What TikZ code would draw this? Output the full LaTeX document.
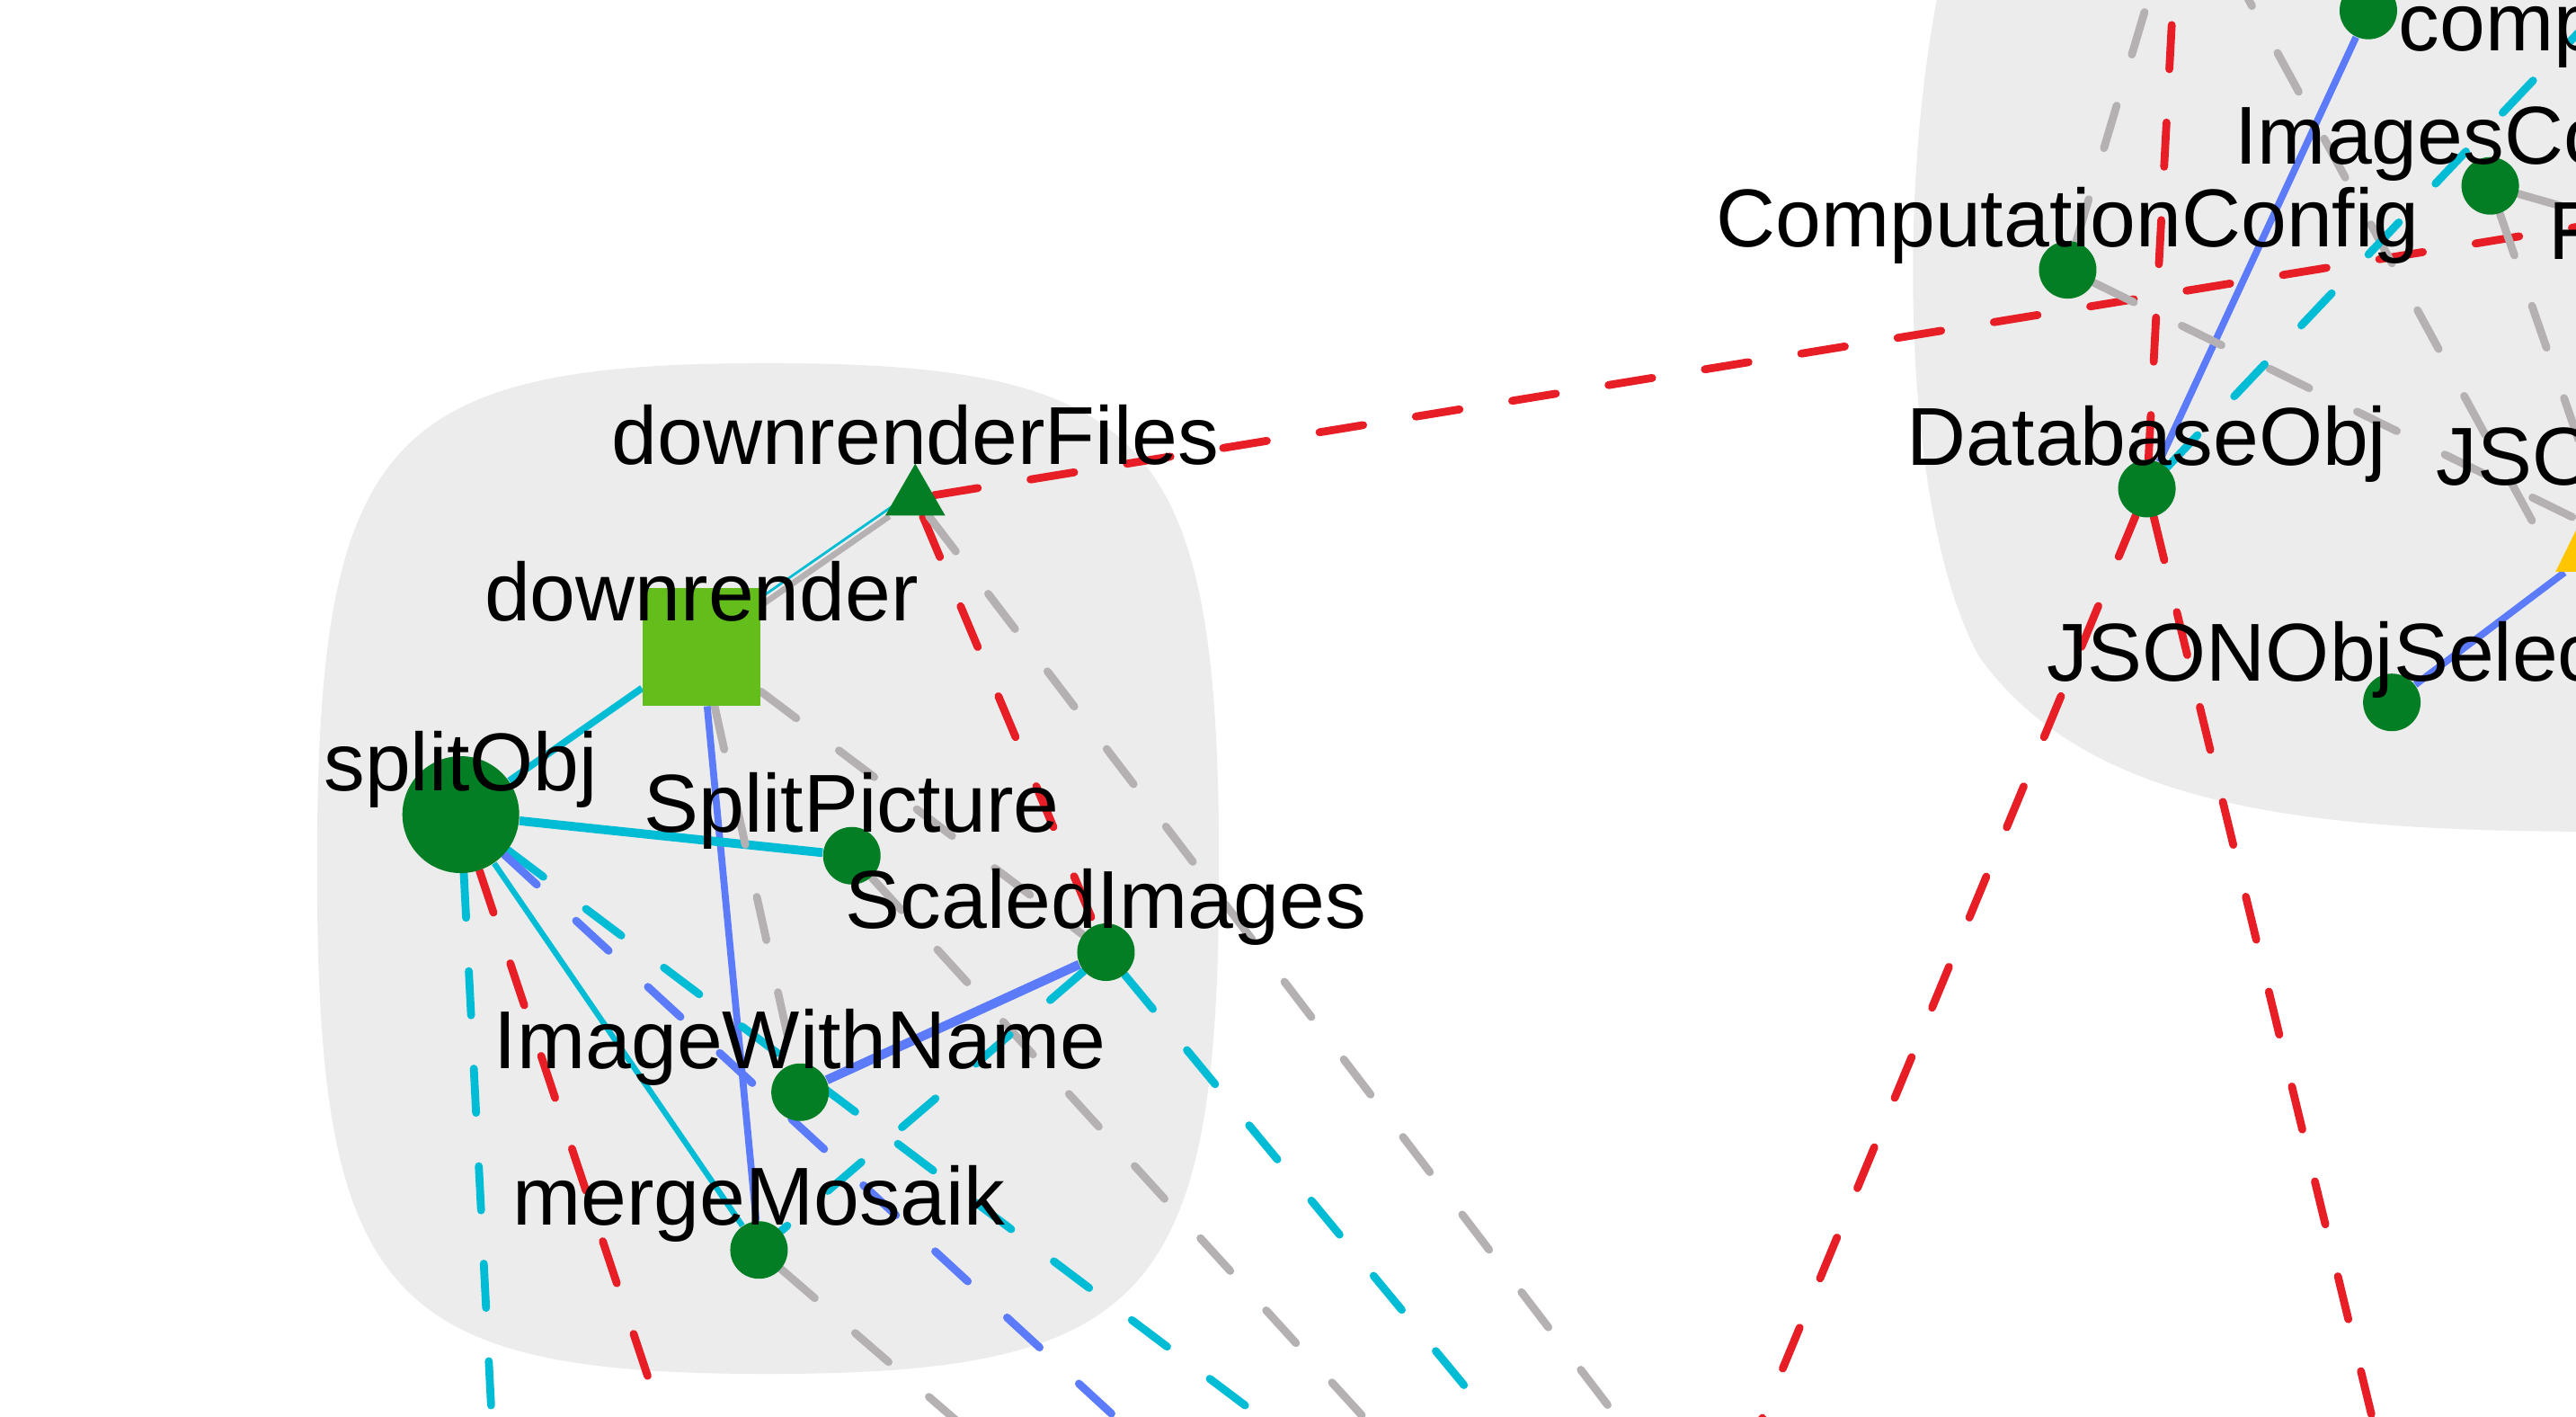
\documentclass[tikz,border=0pt]{standalone}
\usepackage{fontspec}
\setmainfont{Liberation Sans}
\usetikzlibrary{shapes.geometric}

\definecolor{clusterbg}{RGB}{236,236,236}
\definecolor{objgreen}{RGB}{3,126,37}
\definecolor{procgreen}{RGB}{99,190,28}
\definecolor{fileyellow}{RGB}{255,198,0}
\definecolor{linkred}{RGB}{232,30,38}
\definecolor{linkcyan}{RGB}{0,188,212}
\definecolor{linkblue}{RGB}{91,123,251}
\definecolor{linkgray}{RGB}{181,176,177}

\pgfdeclarelayer{clusters}
\pgfdeclarelayer{links}
\pgfsetlayers{clusters,links,main}

\begin{document}
\begin{tikzpicture}[x=0.18278mm,y=-0.18278mm,
  every node/.style={font=\fontsize{26}{31}\selectfont},
  obj/.style={circle,fill=objgreen,inner sep=0pt,minimum size=6.4mm},
  bigobj/.style={obj,minimum size=13mm},
  proc/.style={rectangle,fill=procgreen,inner sep=0pt,minimum size=13.1mm},
  files/.style={regular polygon,regular polygon sides=3,fill=objgreen,inner sep=0pt,minimum size=7.7mm},
  yfiles/.style={isosceles triangle,isosceles triangle stretches,shape border rotate=90,fill=fileyellow,inner sep=0pt,minimum width=12.6mm,minimum height=12.8mm},
  lbl/.style={anchor=base,inner sep=0pt},
  cutlbl/.style={anchor=base west,inner sep=0pt},
  link/.style={line width=2.2pt},
  dep/.style={line width=2.5pt,line cap=round,dash pattern=on 14pt off 16.9pt}]

    \useasboundingbox (0,0) rectangle (1568,862);

    \node[bigobj] (splitObj) at (280.5,495.7) {};
    \node[proc] (downrender) at (427,393.5) {};
    \node[files] (downrenderFiles) at (557.1,303.2) {};
    \node[obj] (SplitPicture) at (518.5,520.7) {};
    \node[obj] (ScaledImages) at (673.2,579.4) {};
    \node[obj] (ImageWithName) at (487,664.6) {};
    \node[obj] (mergeMosaik) at (462,760.6) {};
    \node[obj] (ComputationConfig) at (1258.6,164.2) {};
    \node[obj] (DatabaseObj) at (1306.8,297.3) {};
    \node[obj] (JSONObjSel) at (1455.9,427.4) {};
    \node[obj] (ImagesConf) at (1515.8,113.1) {};
    \node[obj] (topObj) at (1441.6,6.4) {};
    \node[yfiles] (jsonFile) at (1590,326.5) {};

    \node[lbl] (splitObj-l) at ([yshift=2.65mm]splitObj.center) {splitObj};
    \node[lbl] (downrender-l) at ([yshift=2.83mm]downrender.center) {downrender};
    \node[lbl] (downrenderFiles-l) at ([yshift=3.75mm]downrenderFiles.center) {downrenderFiles};
    \node[lbl] (SplitPicture-l) at ([yshift=2.65mm]SplitPicture.center) {SplitPicture};
    \node[lbl] (ScaledImages-l) at ([yshift=2.65mm]ScaledImages.center) {ScaledImages};
    \node[lbl] (ImageWithName-l) at ([yshift=2.65mm]ImageWithName.center) {ImageWithName};
    \node[lbl] (mergeMosaik-l) at ([yshift=2.75mm]mergeMosaik.center) {mergeMosaik};
    \node[lbl] (ComputationConfig-l) at ([yshift=2.6mm]ComputationConfig.center) {ComputationConfig};
    \node[lbl] (DatabaseObj-l) at ([yshift=2.6mm]DatabaseObj.center) {DatabaseObj};
    \node[cutlbl] (JSONObjSel-l) at (1245.5,414.6) {JSONObjSelec};
    \node[cutlbl] (ImagesConf-l) at (1360,100) {ImagesCo};
    \node[cutlbl] (comp-l) at (1459.7,31) {comp};
    \node[cutlbl] (F-l) at (1550.7,157.7) {F};
    \node[cutlbl] (jsonFile-l) at (1482.7,295) {JSO};

    \begin{pgfonlayer}{clusters}
        \fill[white] (0,0) rectangle (1568,862);
        \fill[clusterbg] (467,221) .. controls (700,221) and (742,267) .. (742,528)
            .. controls (742,789) and (700,836) .. (467,836)
            .. controls (234,836) and (193,789) .. (193,528)
            .. controls (193,267) and (234,221) .. (467,221) -- cycle;
        \fill[clusterbg] (1620,508) -- (1568,506) .. controls (1400,505) and (1270,490) .. (1205,400)
            .. controls (1160,320) and (1152,120) .. (1183,-20) -- (1620,-20) -- cycle;
    \end{pgfonlayer}

    \begin{pgfonlayer}{links}
        \coordinate (offRight) at (1620,129.7);
        \coordinate (offSplitRed) at (415.1,900);
        \coordinate (offSplitCyan) at (301.2,900);
        \coordinate (offSplitBlue) at (719.8,900);
        \coordinate (offSplitCyan2) at (817.4,900);
        \coordinate (offFiles) at (1013,900);
        \coordinate (offPicture) at (864.3,900);
        \coordinate (offMerge) at (623.3,900);
        \coordinate (offScaled) at (938.4,900);
        \coordinate (offConfUp) at (1313.5,-20);
        \coordinate (offDbUp) at (1323.8,-20);
        \coordinate (offDbCyan) at (1620,-33.5);
        \coordinate (offDbLeft) at (1057.3,900);
        \coordinate (offDbRight) at (1453,900);
        \coordinate (offImgRight) at (1620,142.7);
        \coordinate (offTop) at (1357.9,-20);
        \coordinate (jsonCorner) at (1556,344);

        \draw[link,linkcyan] (downrender) -- (splitObj);
        \draw[link,linkgray,line width=1.9pt] (downrender) -- (downrenderFiles);
        \draw[link,linkcyan,line width=0.8pt] ([shift={(-1.3pt,1.6pt)}]downrender.center) -- ([shift={(-1.3pt,1.6pt)}]downrenderFiles.center);
        \draw[link,linkblue] (downrender) -- (mergeMosaik);
        \draw[link,linkcyan,line width=2.8pt] (splitObj) -- (SplitPicture);
        \draw[link,linkcyan,line width=1.8pt] (splitObj) -- (mergeMosaik);
        \draw[link,linkblue,line width=2.9pt] (ScaledImages) -- (ImageWithName);
        \draw[link,linkblue] (DatabaseObj) -- (topObj);
        \draw[link,linkblue] (JSONObjSel) -- (jsonFile);

        \draw[dep,linkred] (downrenderFiles) -- (ScaledImages);
        \draw[dep,linkred] (downrenderFiles) -- (offRight);
        \draw[dep,linkred] (splitObj) -- (offSplitRed);
        \draw[dep,linkred] (DatabaseObj) -- (offDbUp);
        \draw[dep,linkred] (DatabaseObj) -- (offDbLeft);
        \draw[dep,linkred] (DatabaseObj) -- (offDbRight);
        \draw[dep,linkgray] (downrender) -- (ScaledImages);
        \draw[dep,linkgray] (downrender) -- (ImageWithName);
        \draw[dep,linkgray] (downrenderFiles) -- (offFiles);
        \draw[dep,linkgray] (SplitPicture) -- (offPicture);
        \draw[dep,linkgray] (mergeMosaik) -- (offMerge);
        \draw[dep,linkgray] (ComputationConfig) -- (offConfUp);
        \draw[dep,linkgray] (ComputationConfig) -- (jsonFile);
        \draw[dep,linkgray] (ImagesConf) -- (offImgRight);
        \draw[dep,linkgray] (ImagesConf) -- (jsonFile);
        \draw[dep,linkgray] (offTop) -- (jsonCorner);
        \draw[dep,linkcyan] (splitObj) -- (offSplitCyan);
        \draw[dep,linkcyan] (splitObj) -- (offSplitCyan2);
        \draw[dep,linkcyan] (ScaledImages) -- (mergeMosaik);
        \draw[dep,linkcyan] (ScaledImages) -- (offScaled);
        \draw[dep,linkcyan] (DatabaseObj) -- (offDbCyan);
        \draw[dep,linkblue] (splitObj) -- (offSplitBlue);
    \end{pgfonlayer}
\end{tikzpicture}
\end{document}
